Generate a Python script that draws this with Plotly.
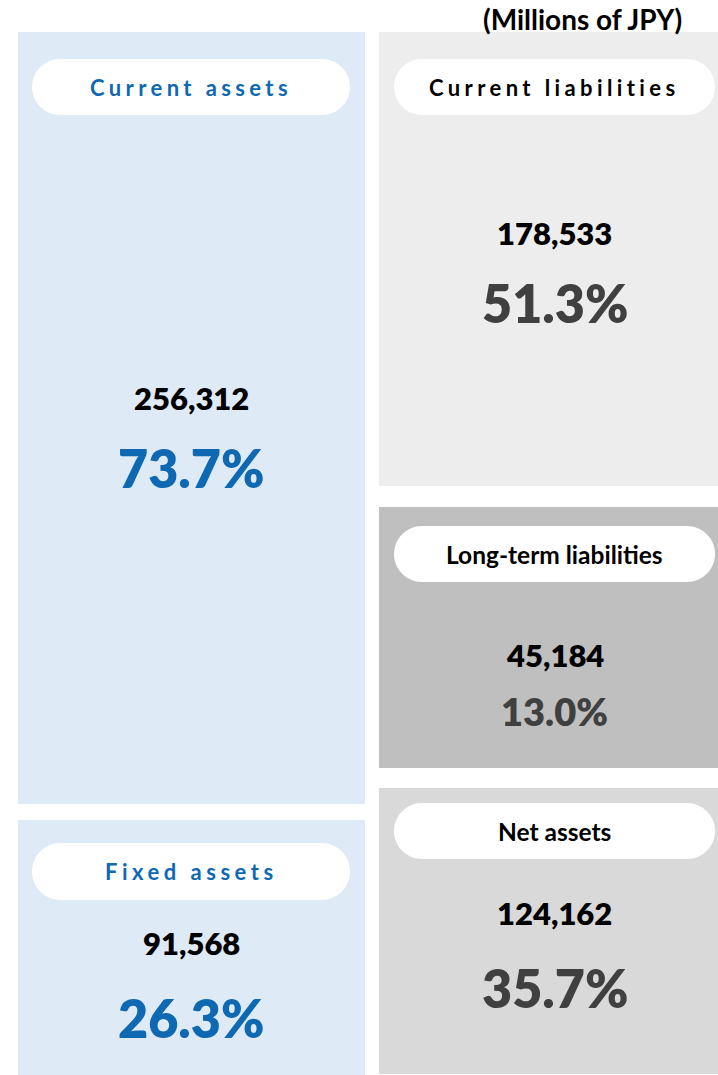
import plotly.graph_objects as go

# balance sheet figures (Millions of JPY)
asset_labels = ['Current assets', 'Fixed assets']
asset_values = [256312, 91568]
asset_shares = [73.7, 26.3]

liab_labels = ['Current liabilities', 'Long-term liabilities', 'Net assets']
liab_values = [178533, 45184, 124162]
liab_shares = [51.3, 13.0, 35.7]

unit_label = '(Millions of JPY)'

W, H = 718, 1075
FONT = 'Lato'
BLUE = '#0e68b2'
DARK = '#404040'

# block layout in page pixels
asset_boxes = [
    dict(x=(18, 365), y=(32, 804), fill='#deeaf6', pill=(59, 115), num_y=398, pct_y=468,
         pct_size=52, title_size=22, spacing=4.4),
    dict(x=(18, 365), y=(820, 1075), fill='#deeaf6', pill=(843, 900), num_y=943, pct_y=1018,
         pct_size=52, title_size=22, spacing=4.5),
]
liab_boxes = [
    dict(x=(379, 718), y=(32, 486), fill='#ededed', pill=(59, 115), num_y=233, pct_y=303,
         pct_size=52, title_size=22, spacing=4.4),
    dict(x=(379, 718), y=(507, 768), fill='#bfbfbf', pill=(526, 582), num_y=655, pct_y=711,
         pct_size=38, title_size=24.5, spacing=0),
    dict(x=(379, 718), y=(788, 1074), fill='#d9d9d9', pill=(803, 859), num_y=913, pct_y=988,
         pct_size=52, title_size=24.5, spacing=0),
]


def pill_path(x0, x1, y0, y1):
    r = (y1 - y0) / 2
    cy = (y0 + y1) / 2
    k = 0.5523 * r
    return (f'M {x0 + r},{y0} L {x1 - r},{y0} '
            f'C {x1 - r + k},{y0} {x1},{cy - k} {x1},{cy} '
            f'C {x1},{cy + k} {x1 - r + k},{y1} {x1 - r},{y1} '
            f'L {x0 + r},{y1} '
            f'C {x0 + r - k},{y1} {x0},{cy + k} {x0},{cy} '
            f'C {x0},{cy - k} {x0 + r - k},{y0} {x0 + r},{y0} Z')


fig = go.Figure()
shapes = []
annotations = []


def add_block(box, label, value, share, title_color, pct_color):
    x0, x1 = box['x']
    y0, y1 = box['y']
    shapes.append(dict(type='rect', xref='x', yref='y', x0=x0, x1=x1, y0=y0, y1=y1,
                       fillcolor=box['fill'], line=dict(width=0), layer='below'))
    px0 = x0 + 14 if x1 < W else x0 + 15
    px1 = x1 - 15 if x1 < W else x1 - 3
    cx = (px0 + px1) / 2
    py0, py1 = box['pill']
    shapes.append(dict(type='path', xref='x', yref='y', path=pill_path(px0, px1, py0, py1),
                       fillcolor='white', line=dict(width=0), layer='below'))
    text = f'<b>{label}</b>'
    if box['spacing']:
        text = f'<span style="letter-spacing:{box["spacing"]}px"><b>{label}</b></span>'
    annotations.append(dict(x=cx, y=(py0 + py1) / 2, text=text, showarrow=False,
                            font=dict(family=FONT, size=box['title_size'], color=title_color)))
    annotations.append(dict(x=cx, y=box['num_y'], text=f'{value:,}', showarrow=False,
                            font=dict(family=FONT, size=31, color='black', weight=800)))
    annotations.append(dict(x=cx, y=box['pct_y'], text=f'{share:.1f}%', showarrow=False,
                            font=dict(family=FONT, size=box['pct_size'], color=pct_color, weight=800)))


for box, lab, val, sh in zip(asset_boxes, asset_labels, asset_values, asset_shares):
    add_block(box, lab, val, sh, BLUE, BLUE)

for box, lab, val, sh in zip(liab_boxes, liab_labels, liab_values, liab_shares):
    add_block(box, lab, val, sh, 'black', DARK)

annotations.append(dict(x=684, y=19, xanchor='right', text=f'<b>{unit_label}</b>',
                        showarrow=False, font=dict(family=FONT, size=28, color='black')))

fig.update_layout(
    width=W, height=H,
    margin=dict(l=0, r=0, t=0, b=0),
    paper_bgcolor='white', plot_bgcolor='white',
    xaxis=dict(range=[0, W], visible=False, fixedrange=True),
    yaxis=dict(range=[H, 0], visible=False, fixedrange=True),
    shapes=shapes,
    annotations=annotations,
    showlegend=False,
)

# drop the page's default body margin so the figure fills the window exactly
fig.write_html("out.html", config={'displayModeBar': False},
               post_script="document.body.style.margin='0';document.body.style.overflow='hidden';")
